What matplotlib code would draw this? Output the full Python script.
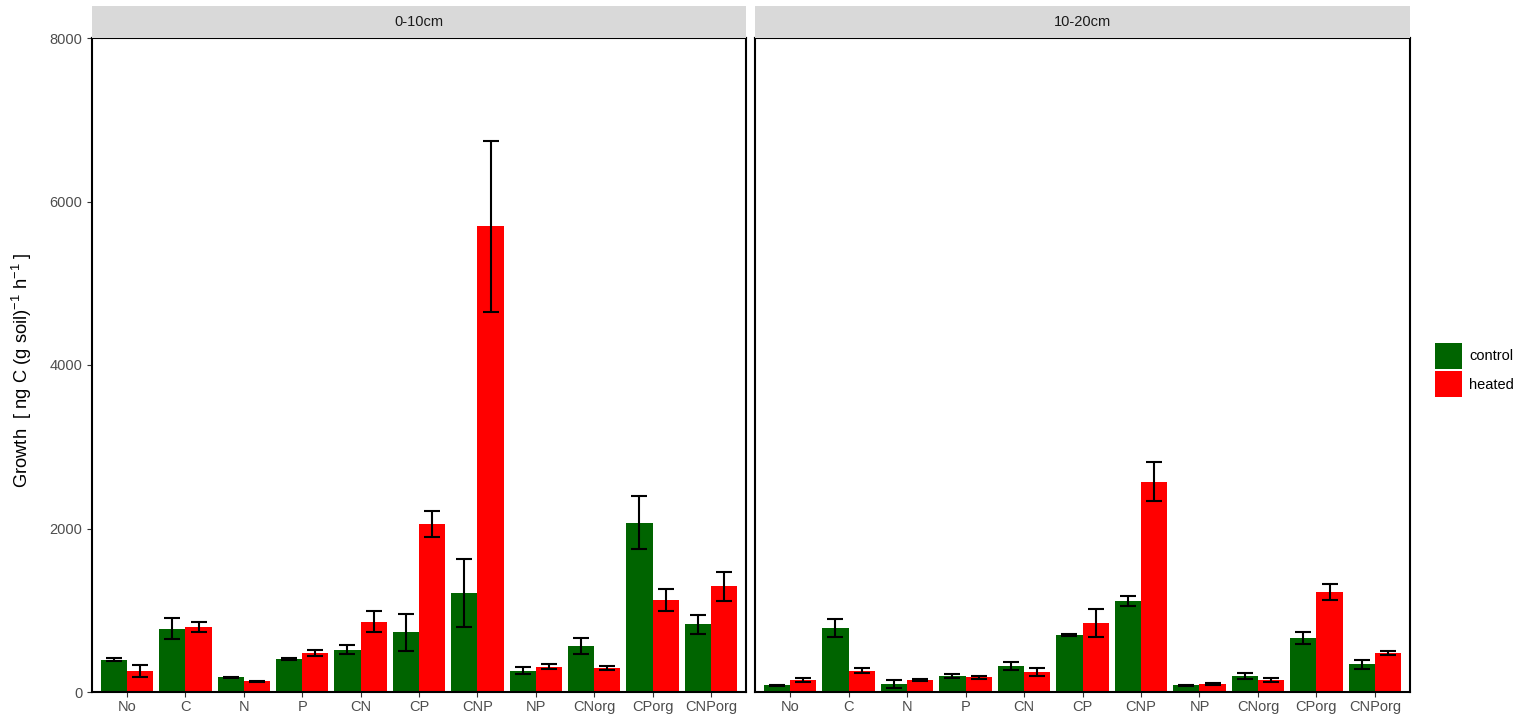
import numpy as np
import matplotlib.pyplot as plt
import matplotlib as mpl
from matplotlib.patches import Patch, Rectangle

# Microbial growth per amendment, two soil depths
treatments = ['No', 'C', 'N', 'P', 'CN', 'CP', 'CNP', 'NP', 'CNorg', 'CPorg', 'CNPorg']
depths = ['0-10cm', '10-20cm']

control_0_10 = [395, 775, 180, 403, 514, 730, 1210, 262, 558, 2070, 828]
control_0_10_se = [15, 128, 8, 12, 55, 229, 416, 40, 98, 322, 118]
heated_0_10 = [261, 795, 130, 481, 860, 2052, 5695, 309, 294, 1125, 1292]
heated_0_10_se = [72, 60, 6, 37, 126, 156, 1045, 30, 28, 140, 175]

control_10_20 = [81, 778, 98, 196, 314, 697, 1109, 81, 196, 661, 342]
control_10_20_se = [8, 110, 48, 30, 48, 10, 60, 8, 35, 78, 55]
heated_10_20 = [147, 261, 147, 179, 245, 844, 2572, 98, 147, 1223, 477]
heated_10_20_se = [22, 30, 12, 20, 45, 175, 240, 18, 20, 100, 30]

panels = [
    (control_0_10, control_0_10_se, heated_0_10, heated_0_10_se),
    (control_10_20, control_10_20_se, heated_10_20, heated_10_20_se),
]

groups = ['control', 'heated']
colors = ['#006400', '#FF0000']
yticks = [0, 2000, 4000, 6000, 8000]

# Fonts
plt.rcParams['font.family'] = ['Liberation Sans', 'DejaVu Sans']
mpl.rcParams['mathtext.fontset'] = 'custom'
mpl.rcParams['mathtext.rm'] = 'Liberation Sans'
mpl.rcParams['mathtext.it'] = 'Liberation Sans:italic'

W, H = 1519, 718
fig = plt.figure(figsize=(W / 100, H / 100), dpi=100)

# panel boxes in pixels: left, right, top, bottom
boxes = [(92, 746, 38, 692), (755, 1410, 38, 692)]
strip_top = 6
tick_grey = '#4D4D4D'

x = np.arange(len(treatments))
bw = 0.45
for i, (box, data) in enumerate(zip(boxes, panels)):
    l, r, t, b = box
    ax = fig.add_axes([l / W, 1 - b / H, (r - l) / W, (b - t) / H])
    ctrl, ctrl_se, heat, heat_se = data
    ax.bar(x - bw / 2, ctrl, bw, color=colors[0], zorder=2)
    ax.bar(x + bw / 2, heat, bw, color=colors[1], zorder=2)
    ax.errorbar(x - bw / 2, ctrl, yerr=ctrl_se, fmt='none', ecolor='black',
                elinewidth=1.5, capsize=5.5, capthick=1.5, zorder=3)
    ax.errorbar(x + bw / 2, heat, yerr=heat_se, fmt='none', ecolor='black',
                elinewidth=1.5, capsize=5.5, capthick=1.5, zorder=3)

    ax.set_xlim(-0.6, len(treatments) - 0.4)
    ax.set_ylim(0, 8000)
    ax.set_xticks(x)
    ax.set_xticklabels(treatments)
    ax.set_yticks(yticks)
    ax.tick_params(axis='both', colors='#333333', labelcolor=tick_grey,
                   labelsize=10.5, length=3.5, width=0.8)
    ax.tick_params(axis='x', pad=2)
    if i == 1:
        ax.tick_params(axis='y', left=False, labelleft=False)
    for sp in ax.spines.values():
        sp.set_color('black')
        sp.set_linewidth(1.5)

    # facet strip
    strip = fig.add_axes([l / W, 1 - t / H, (r - l) / W, (t - strip_top) / H])
    strip.add_patch(Rectangle((0, 0), 1, 1, color='#D9D9D9',
                              transform=strip.transAxes))
    strip.set_axis_off()
    strip.text(0.5, 0.5, depths[i], ha='center', va='center',
               fontsize=10.5, color='#1A1A1A')

fig.text(22 / W, 1 - 370 / H,
         r'Growth  [ ng C (g soil)$^{-1}$ h$^{-1}$ ]',
         rotation=90, ha='center', va='center', fontsize=13.2)

handles = [Patch(facecolor=c, edgecolor='none') for c in colors]
fig.legend(handles, groups, loc='center left',
           bbox_to_anchor=(1426 / W, 1 - 370 / H), frameon=False,
           fontsize=10.5, handlelength=1.9, handleheight=2.35,
           labelspacing=0.2, handletextpad=0.45, borderpad=0.3,
           borderaxespad=0.3)

plt.savefig('out.png', dpi=100)
plt.close()
